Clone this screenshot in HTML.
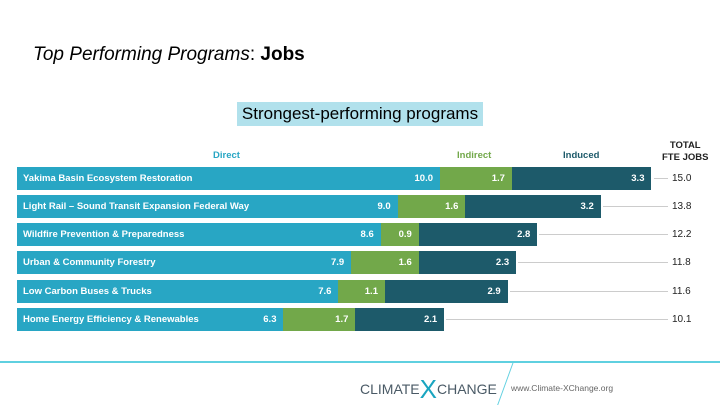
<!DOCTYPE html>
<html><head><style>
body{margin:0;width:720px;height:405px;background:#fff;position:relative;overflow:hidden;font-family:"Liberation Sans",sans-serif}
.a{position:absolute}
.seg{position:absolute;height:23px;color:#fff;font-weight:bold;font-size:9.5px;line-height:23px;text-align:right;box-sizing:border-box;padding-right:7px}
.nm{position:absolute;left:23px;color:#fff;font-weight:bold;font-size:9.5px;line-height:23px}
.tot{position:absolute;left:672px;font-size:10px;color:#222;line-height:23px}
.ln{position:absolute;height:1px;background:#ccc}
.hd{position:absolute;top:150px;font-size:9.5px;font-weight:bold}
</style></head><body>
<div class="a" style="left:33px;top:44px;font-size:19px;white-space:nowrap"><i>Top Performing Programs</i>: <b>Jobs</b></div>
<div class="a" style="left:237px;top:102px;width:246px;height:24px;background:#b1e1ec;font-size:17px;line-height:24px;text-align:center;white-space:nowrap">Strongest-performing programs</div>
<div class="hd" style="left:213px;color:#28a6c4">Direct</div>
<div class="hd" style="left:457px;color:#72a84a">Indirect</div>
<div class="hd" style="left:563px;color:#1d5a6a">Induced</div>
<div class="a" style="left:662px;top:140px;font-size:9.5px;font-weight:bold;line-height:12px;text-align:center;color:#222">TOTAL<br>FTE JOBS</div>
<div id="c"></div>
<div class="a" style="left:0;top:361px;width:720px;height:2px;background:#5fd0e0"></div>
<div class="a" style="left:360px;top:377px;font-size:14px;color:#4a5a66;white-space:nowrap;line-height:16px">CLIMATE<span style="color:#1aa5c0;font-size:26px;position:relative;top:4px">X</span>CHANGE</div>
<div class="a" style="left:505px;top:362px;width:1px;height:43px;background:#5fd0e0;transform:skewX(-20deg)"></div>
<div class="a" style="left:511px;top:383px;font-size:8.5px;color:#666">www.Climate-XChange.org</div>
<script>
var d=[["Yakima Basin Ecosystem Restoration",10.0,1.7,3.3,"15.0"],["Light Rail – Sound Transit Expansion Federal Way",9.0,1.6,3.2,"13.8"],["Wildfire Prevention & Preparedness",8.6,0.9,2.8,"12.2"],["Urban & Community Forestry",7.9,1.6,2.3,"11.8"],["Low Carbon Buses & Trucks",7.6,1.1,2.9,"11.6"],["Home Energy Efficiency & Renewables",6.3,1.7,2.1,"10.1"]];
var tops=[167,195,223,251,280,308],s=42.3,h="";
d.forEach(function(r,i){var t=tops[i],x=17,c=["#28a6c4","#72a84a","#1d5a6a"];
for(var k=0;k<3;k++){var w=r[k+1]*s;h+='<div class="seg" style="left:'+x+'px;top:'+t+'px;width:'+w+'px;background:'+c[k]+'">'+r[k+1].toFixed(1)+'</div>';x+=w;}
h+='<div class="nm" style="top:'+t+'px">'+r[0].replace("&","&amp;")+'</div>';
h+='<div class="ln" style="left:'+(x+2)+'px;top:'+(t+11)+'px;width:'+(666-x)+'px"></div>';
h+='<div class="tot" style="top:'+t+'px">'+r[4]+'</div>';});
document.getElementById("c").innerHTML=h;
</script>
</body></html>
